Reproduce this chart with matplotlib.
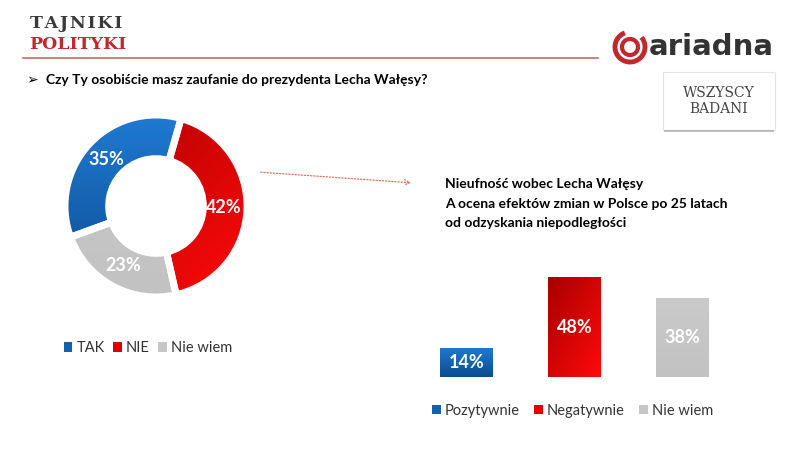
import numpy as np
import matplotlib
matplotlib.use("Agg")
import matplotlib.pyplot as plt
from matplotlib.patches import Rectangle, Arc, FancyArrowPatch, Wedge, Patch
from matplotlib.colors import LinearSegmentedColormap

plt.rcParams['font.family'] = ['Lato', 'DejaVu Sans']

# donut data
pie_labels = ['TAK', 'NIE', 'Nie wiem']
pie_values = [35, 42, 23]
# bar data
bar_labels = ['Pozytywnie', 'Negatywnie', 'Nie wiem']
bar_values = [14, 48, 38]

question = 'Czy Ty osobiście masz zaufanie do prezydenta Lecha Wałęsy?'
bar_title = ['Nieufność wobec Lecha Wałęsy',
             'A ocena efektów zmian w Polsce po 25 latach',
             'od odzyskania niepodległości']

blue_grad = ['#1f7ad2', '#0c4c90']
red_grad = ['#a80000', '#ff0a0a']
grey_grad = ['#cacaca', '#c2c2c2']
grads = [blue_grad, red_grad, grey_grad]
flat = ['#1660b0', '#e00000', '#c6c6c6']

W, H = 788, 474
fig = plt.figure(figsize=(W / 100, H / 100), dpi=100)
fig.patch.set_facecolor('white')


def fax(x0, y0, x1, y1):
    # pixel box (top-left origin) -> axes
    return fig.add_axes([x0 / W, 1 - y1 / H, (x1 - x0) / W, (y1 - y0) / H])


def fill_gradient(ax, patch, cols, extent, diag=False):
    cmap = LinearSegmentedColormap.from_list('g', cols)
    n = 100
    yy, xx = np.mgrid[0:1:n * 1j, 0:1:n * 1j]
    z = yy if not diag else (yy + xx) / 2
    im = ax.imshow(z, cmap=cmap, extent=extent, origin='upper',
                   aspect='auto', zorder=patch.get_zorder() + 0.1,
                   interpolation='bilinear')
    im.set_clip_path(patch)


# ---- donut ----
ax1 = fax(65, 115, 247, 297)
wedges, _ = ax1.pie(pie_values, colors=flat, startangle=200, counterclock=False,
                    radius=1, wedgeprops=dict(width=0.48, edgecolor='white', linewidth=4))
for w, g in zip(wedges, grads):
    fill_gradient(ax1, w, g, [-1, 1, -1, 1], diag=(g is red_grad))
    w.set_zorder(1)
# white separators on top of the gradients
for w in wedges:
    ax1.add_patch(Wedge(w.center, w.r, w.theta1, w.theta2, width=w.width,
                        facecolor='none', edgecolor='white', linewidth=5, zorder=5))
ang = np.cumsum([0] + pie_values)
for i, v in enumerate(pie_values):
    mid = np.deg2rad(200 - (ang[i] + v / 2) * 3.6)
    ax1.text(0.75 * np.cos(mid), 0.75 * np.sin(mid), f'{v}%', color='white',
             fontsize=13, fontweight='bold', ha='center', va='center', zorder=6)
ax1.set_xlim(-1, 1)
ax1.set_ylim(-1, 1)
ax1.axis('off')
pie_handles = [Patch(facecolor=c) for c in flat]
ax1.legend(pie_handles, pie_labels, loc='upper left', bbox_to_anchor=(-0.08, -0.17),
           ncol=3, frameon=False, fontsize=10.5, handlelength=0.6, handleheight=0.6,
           handletextpad=0.3, columnspacing=0.55, labelcolor='#333333')

# ---- bars ----
ax2 = fax(413, 273, 736, 377)
x = np.arange(len(bar_values))
bars = ax2.bar(x, bar_values, width=0.49, color=flat, zorder=1)
for b, g, v in zip(bars, grads, bar_values):
    fill_gradient(ax2, b, g, [b.get_x(), b.get_x() + b.get_width(), 0, v],
                  diag=(g is red_grad))
    ax2.text(b.get_x() + b.get_width() / 2, v / 2, f'{v}%', color='white',
             fontsize=13, fontweight='bold', ha='center', va='center', zorder=5)
ax2.set_xlim(-0.5, 2.5)
ax2.set_ylim(0, 50)
ax2.axis('off')
bar_handles = [Patch(facecolor=c) for c in flat]
ax2.legend(bar_handles, bar_labels, loc='upper left', bbox_to_anchor=(0.018, -0.13),
           ncol=3, frameon=False, fontsize=10.5, handlelength=0.6, handleheight=0.6,
           handletextpad=0.3, columnspacing=0.95, labelcolor='#333333')

# ---- decorations ----
deco = fig.add_axes([0, 0, 1, 1], zorder=-1)
deco.set_xlim(0, W)
deco.set_ylim(H, 0)
deco.axis('off')

deco.plot([23, 598], [58, 58], color='#c46a6a', lw=1.2)
deco.text(30, 23, '\u200a'.join('TAJNIKI'), family='DejaVu Serif', fontweight='bold',
          fontsize=12.5, color='#3a3a3a', va='center')
deco.text(29, 44, 'POLITYKI', family='DejaVu Serif', fontweight='bold',
          fontsize=12.5, color='#c0282d', va='center')

# ariadna logo
deco.add_patch(Arc((630, 47), 30, 30, theta1=-40, theta2=250, color='#c0282d', lw=3.5))
deco.add_patch(Arc((630, 47), 16, 16, theta1=0, theta2=360, color='#c0282d', lw=3))
deco.text(649, 47, 'ariadna', fontsize=21, fontweight='bold', color='#333333',
          va='center', family='DejaVu Sans')

# WSZYSCY BADANI box
deco.add_patch(Rectangle((663, 72), 112, 58, facecolor='white',
                         edgecolor='#e6e6e6', lw=0.8))
deco.plot([665, 773], [131, 131], color='#999999', lw=1.5, alpha=0.6)
deco.text(719, 101, 'WSZYSCY\nBADANI', family='DejaVu Serif', fontsize=10,
          color='#444444', ha='center', va='center', linespacing=1.2)

# question
deco.text(26, 80, '➢', fontsize=10, color='black', va='center', family='DejaVu Sans')
deco.text(46, 80, question, fontsize=10, fontweight='bold', color='black', va='center')

# bar chart title
for i, line in enumerate(bar_title):
    deco.text(445, 184 + i * 19.5, line, fontsize=10, fontweight='bold',
              color='black', va='center')

# dotted arrow
deco.add_patch(FancyArrowPatch((258, 172), (414, 183), arrowstyle='->',
                               mutation_scale=10, color='#e07060', lw=0.9,
                               linestyle=(0, (1, 1.5))))

fig.savefig('out.png', dpi=100)
